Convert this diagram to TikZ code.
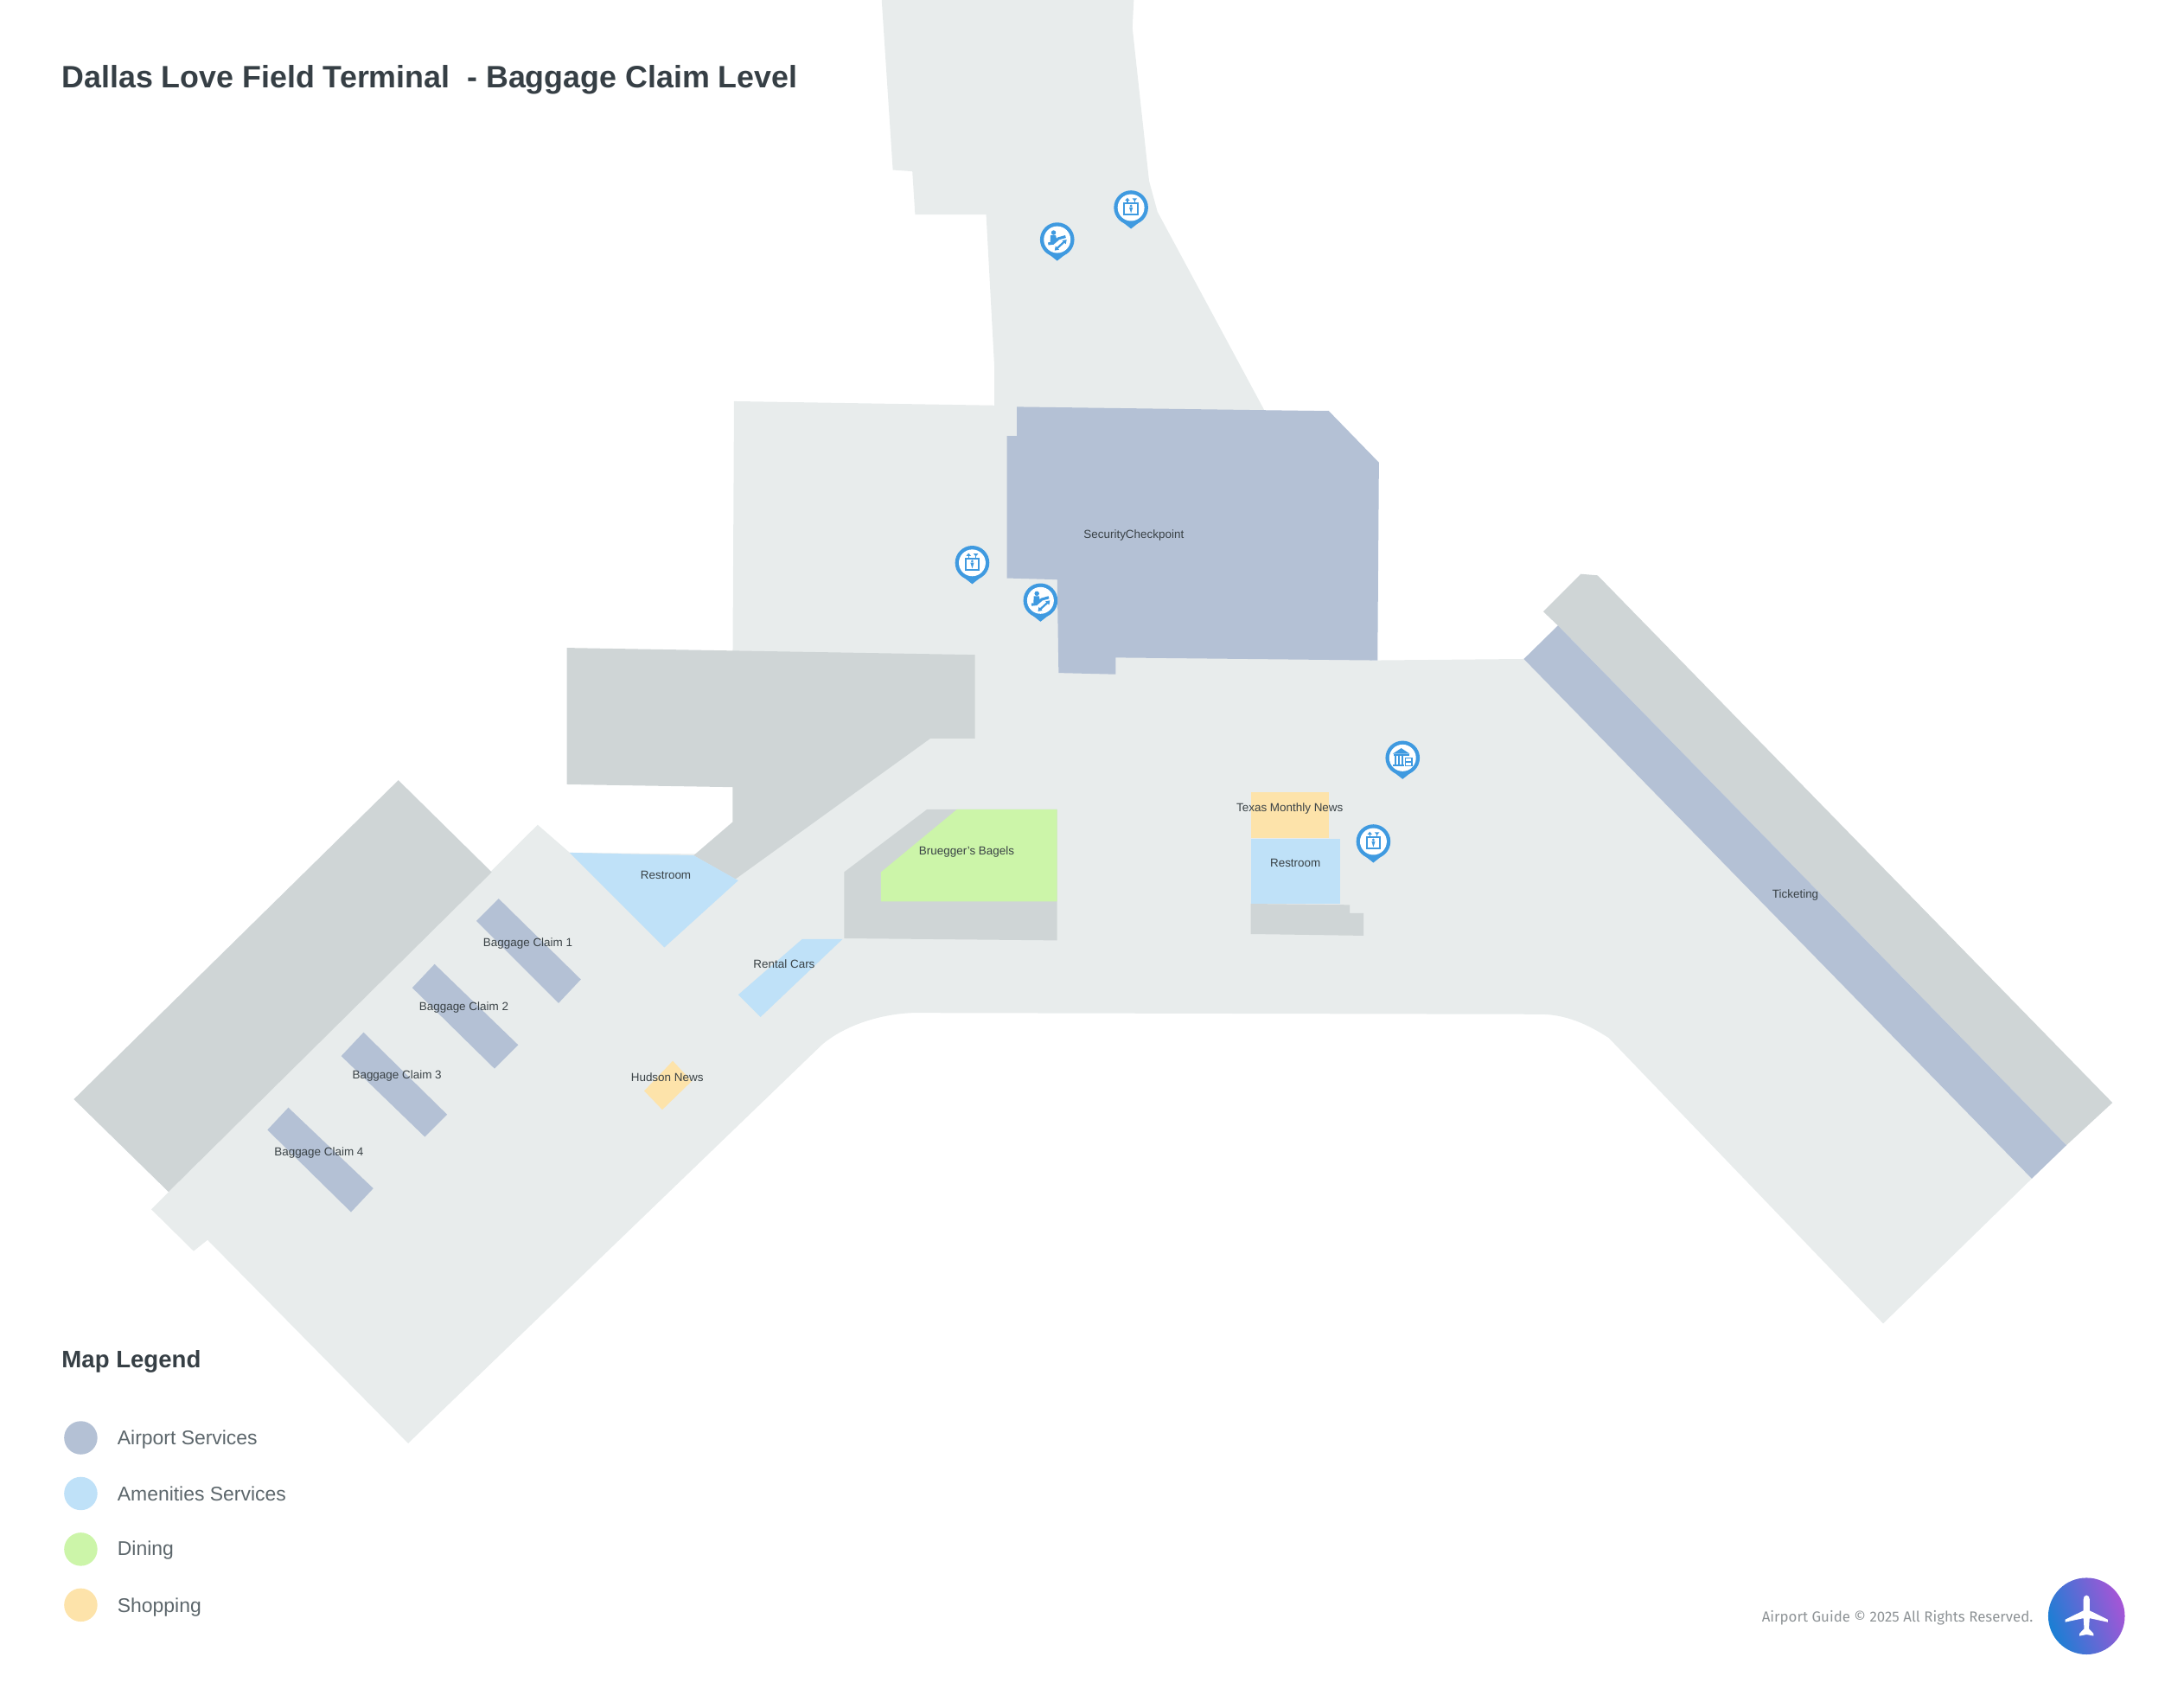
\documentclass[tikz,border=0pt]{standalone}
\usepackage{fontspec}
\setmainfont{Liberation Sans}
\newfontfamily\footfont{Fira Sans}
\usetikzlibrary{shadings}
\definecolor{floorgray}{HTML}{E8ECEC}
\definecolor{wallgray}{HTML}{CFD5D6}
\definecolor{airportblue}{HTML}{B4C1D5}
\definecolor{amenityblue}{HTML}{BFE1F8}
\definecolor{diningreen}{HTML}{CCF5A9}
\definecolor{shopyellow}{HTML}{FDE3AA}
\definecolor{inkdark}{HTML}{363F45}
\definecolor{inklabel}{HTML}{3A4246}
\definecolor{inklegend}{HTML}{5C666B}
\definecolor{inkfoot}{HTML}{8E9396}
\definecolor{pinblue}{HTML}{3F9AE0}
\definecolor{logoblue}{HTML}{1A7FD4}
\definecolor{logopurple}{HTML}{A655D6}
\tikzset{
	maplabel/.style={inner sep=0pt, text=inklabel, font=\fontsize{4.75}{6}\selectfont},
	legendtext/.style={inner sep=0pt, anchor=west, text=inklegend, font=\fontsize{8.1}{9}\selectfont},
	legenddot/.style={circle, inner sep=0pt, minimum size=13.6pt},
	pics/pinbase/.style={code={
		\fill[pinblue] (-8.5,8.5) -- (0,15.2) -- (8.5,8.5) -- cycle;
		\fill[pinblue] (0,0) circle (12.3);
		\fill[white] (0,0) circle (9.6);
	}},
	pics/lifticon/.style={code={
		\draw[pinblue, line width=.7pt] (-4.8,-3) rectangle (4.8,5);
		\fill[pinblue] (0,-1.2) circle (1);
		\fill[pinblue] (-1.3,-.1) -- (1.3,-.1) -- (0,4) -- cycle;
		\draw[pinblue, line width=.5pt] (-2.6,-3) -- (-2.6,-5.5);
		\draw[pinblue, line width=.5pt] (2.6,-3) -- (2.6,-5.5);
		\fill[pinblue] (-4.3,-5) -- (-2.6,-7) -- (-.9,-5) -- cycle;
		\fill[pinblue] (.9,-6.6) -- (2.6,-4.6) -- (4.3,-6.6) -- cycle;
	}},
	pics/stairicon/.style={code={
		\draw[pinblue, line width=1.1pt] (-6.5,3) -- (-3,2.6) -- (1,-.8) -- (6,-2.2);
		\fill[pinblue] (-2.6,-5) circle (1.7);
		\fill[pinblue] (-4.8,-3) -- (-1,-3) -- (-.4,-.4) -- (-3,2.2) -- (-5,1.6) -- cycle;
		\draw[pinblue, line width=.8pt] (-.5,6.6) -- (5,1.6);
		\fill[pinblue] (6.8,0) -- (6.2,3.2) -- (3.6,.6) -- cycle;
		\fill[pinblue] (-1.8,7.8) -- (-1.2,4.6) -- (1.4,7.2) -- cycle;
	}},
	pics/bankicon/.style={code={
		\fill[pinblue] (-7,-3) -- (-1,-7) -- (5,-3) -- cycle;
		\fill[pinblue] (-6,-1.6) rectangle (-4.8,5);
		\fill[pinblue] (-3.4,-1.6) rectangle (-2.2,5);
		\fill[pinblue] (-.8,-1.6) rectangle (.4,5);
		\fill[pinblue] (-6.5,-2.4) rectangle (4.5,-1.6);
		\fill[pinblue] (-7,5) rectangle (1.2,5.9);
		\draw[pinblue, line width=.5pt] (2,.2) rectangle (6.6,5.6);
		\draw[pinblue, line width=.4pt] (2.6,2.9) -- (6,2.9);
	}},
	pics/planemark/.style={code={
		\fill[white] (0,-15) .. controls (-1.5,-15) and (-2.2,-13.5) .. (-2.2,-12)
			-- (-2.2,-4) -- (-15.3,2.5) -- (-15.3,4.3) -- (-2.2,1.5) -- (-1.7,9)
			-- (-5,12.5) -- (-5,14.2) -- (0,13.2) -- (5,14.2) -- (5,12.5) -- (1.7,9)
			-- (2.2,1.5) -- (15.3,4.3) -- (15.3,2.5) -- (2.2,-4) -- (2.2,-12)
			.. controls (2.2,-13.5) and (1.5,-15) .. (0,-15) -- cycle;
	}},
}
\begin{document}
\begin{tikzpicture}[x=.02cm, y=-.02cm]
	\useasboundingbox (0,0) rectangle (1568,1212);
	
	% floor
	\fill[floorgray] (633,0) -- (814,0) -- (813,20) -- (825,130) -- (831,152) -- (908,295) -- (970,332) -- (985,345) -- (985,474)
		-- (1094,473) -- (1458.7,846) -- (1352,950) -- (1155,745) .. controls (1135,732) and (1120,728) .. (1105,728)
		-- (655,727) .. controls (630,728) and (605,737) .. (590,750) -- (293,1036) -- (149,890) -- (139,898) -- (108.6,868)
		-- (386,592) -- (409,612) -- (505,613) -- (560,570) -- (690,510) -- (690,480) -- (526,480) -- (527,288)
		-- (714,291) -- (714,265) -- (708,154) -- (657,154) -- (655,123) -- (641,122) -- cycle;
	
	% walls and closed areas
	\fill[wallgray] (407,465) -- (700,470) -- (700,530) -- (668,530) -- (528,631) -- (498,614) -- (526,590) -- (526,565) -- (407,563) -- cycle;
	\fill[wallgray] (53,789) -- (286,560) -- (353,626) -- (121,855.5) -- cycle;
	\fill[wallgray] (1108,439) -- (1135,412) -- (1147,413) -- (1516.6,791.5) -- (1483.6,822) -- (1118.5,449) -- cycle;
	\fill[wallgray] (606,626) -- (665.5,581) -- (759,581) -- (759,675) -- (606,673.5) -- cycle;
	\fill[wallgray] (898,648.7) -- (969,649.5) -- (969,655.5) -- (979,655.5) -- (979,671.6) -- (898,670.4) -- cycle;
	
	% airport services
	\fill[airportblue] (730,292) -- (954,295) -- (990,332) -- (989,474) -- (801,472) -- (801,484) -- (760,483) -- (759,416) -- (723,415) -- (723,313) -- (730,313) -- cycle;
	\fill[airportblue] (1094,473) -- (1118.5,449) -- (1483.6,822) -- (1458.7,846) -- cycle;
	\fill[airportblue] (358,645) -- (417,703) -- (401,720) -- (342,661) -- cycle;
	\fill[airportblue] (312,692) -- (372,750) -- (355,767) -- (296,709) -- cycle;
	\fill[airportblue] (261,741) -- (321,800) -- (305,816) -- (245,758) -- cycle;
	\fill[airportblue] (207,795) -- (268,853) -- (252,870) -- (192,811) -- cycle;
	
	% amenities, dining, shopping
	\fill[amenityblue] (409,612) -- (498,614) -- (530,632) -- (477,680) -- cycle;
	\fill[amenityblue] (576,674) -- (605,674) -- (546,730) -- (530,714) -- cycle;
	\fill[amenityblue] (898,602) -- (962,602) -- (962,648.7) -- (898,648.7) -- cycle;
	\fill[diningreen] (632.5,626) -- (687,581) -- (759,581) -- (759,647) -- (632.5,647) -- cycle;
	\fill[shopyellow] (898,568.6) -- (954,568.6) -- (954,601.5) -- (898,601.5) -- cycle;
	\fill[shopyellow] (483,761.5) -- (496.6,776) -- (475.5,796.5) -- (462.5,783) -- cycle;
	
	% place names
	\begin{scope}[yshift=-.7pt, every node/.style={maplabel}]
	\node (security) at (814,383)    {SecurityCheckpoint};
	\node (restwest) at (478,627)    {Restroom};
	\node (claimone) at (379,676)    {Baggage Claim 1};
	\node (claimtwo) at (333,722)    {Baggage Claim 2};
	\node (claimthree) at (285,771)  {Baggage Claim 3};
	\node (claimfour) at (229,826)   {Baggage Claim 4};
	\node (rentalcars) at (563,691)  {Rental Cars};
	\node (hudson) at (479,772)      {Hudson News};
	\node (bagels) at (694,610)      {Bruegger's Bagels};
	\node (texasnews) at (926,579)   {Texas Monthly News};
	\node (resteast) at (930,618)    {Restroom};
	\node (ticketing) at (1289,641)  {Ticketing};
	\end{scope}
	
	% pins
	\pic at (812,149)  {pinbase};
	\pic at (812,149)  {lifticon};
	\pic at (759,172)  {pinbase};
	\pic at (759,172)  {stairicon};
	\pic at (698,404)  {pinbase};
	\pic at (698,404)  {lifticon};
	\pic at (747,431)  {pinbase};
	\pic at (747,431)  {stairicon};
	\pic at (1007,544) {pinbase};
	\pic at (1007,544) {bankicon};
	\pic at (986,604)  {pinbase};
	\pic at (986,604)  {lifticon};
	
	% title
	\node (title) at (44,57.5) [anchor=west, inner sep=0pt, text=inkdark, font=\fontsize{12.65}{15}\selectfont] {\textbf{Dallas Love Field Terminal\ \ - Baggage Claim Level}};
	
	% legend
	\node (legendhead) at (44,977) [anchor=west, inner sep=0pt, text=inkdark, font=\fontsize{9.75}{12}\selectfont] {\textbf{Map Legend}};
	\node (dotairport) at (58,1032) [legenddot, fill=airportblue] {};
	\node (dotamenity) at (58,1072) [legenddot, fill=amenityblue] {};
	\node (dotdining) at (58,1112)  [legenddot, fill=diningreen] {};
	\node (dotshop) at (58,1152)    [legenddot, fill=shopyellow] {};
	\node (txtairport) at (84,1033.5) [legendtext] {Airport Services};
	\node (txtamenity) at (84,1072.5) [legendtext] {Amenities Services};
	\node (txtdining) at (84,1112.5)  [legendtext] {Dining};
	\node (txtshop) at (84,1153.5)    [legendtext] {Shopping};
	
	% footer
	\node (footer) at (1460,1161.5) [anchor=east, inner sep=0pt, text=inkfoot, font=\footfont\fontsize{5.95}{7}\selectfont] {Airport Guide © 2025 All Rights Reserved.};
	\node (logo) at (1498,1160) [circle, inner sep=0pt, minimum size=31.3pt, left color=logoblue, right color=logopurple, shading angle=110] {};
	\pic at (1498,1160) {planemark};
\end{tikzpicture}
\end{document}
